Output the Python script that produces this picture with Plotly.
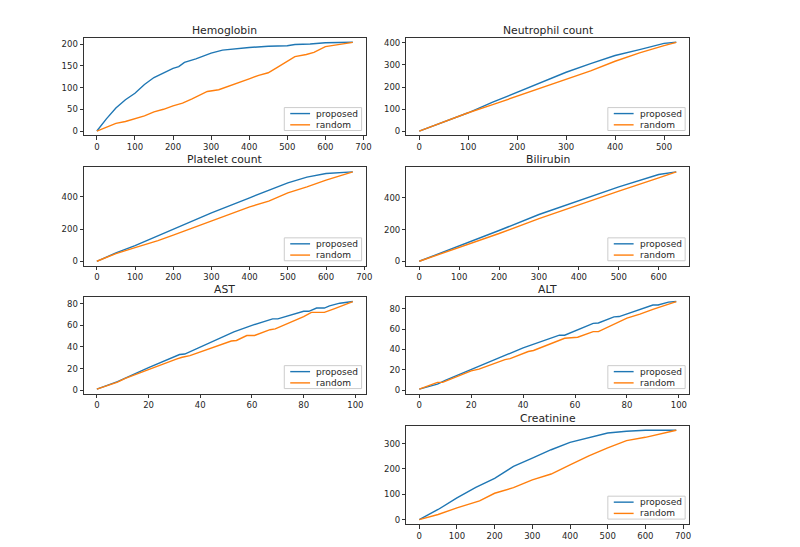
import plotly.graph_objects as go

# ---------------- data ----------------
hgb_prop_x = [0, 25, 50, 75, 100, 125, 150, 175, 200, 215, 230, 260, 300, 330, 350, 400, 450, 500, 520, 560, 600, 640, 672]
hgb_prop_y = [0, 28, 53, 72, 87, 107, 123, 133, 144, 148, 158, 166, 179, 186, 188, 192, 195, 196, 199, 200, 203, 203, 204]
hgb_rand_x = [0, 25, 50, 75, 100, 125, 150, 175, 200, 225, 250, 270, 290, 320, 350, 375, 400, 425, 450, 475, 500, 520, 550, 570, 600, 625, 650, 672]
hgb_rand_y = [0, 9, 17.5, 22, 29, 35, 44, 50, 58, 64, 74, 82, 91, 95, 104, 111, 120, 128, 134, 147, 160, 171, 176, 181, 194, 198, 201, 204]

neu_x = [0, 50, 100, 150, 200, 250, 300, 350, 400, 450, 500, 525]
neu_prop_y = [0, 41, 83, 131, 177, 224, 267, 306, 343, 370, 398, 403]
neu_rand_y = [0, 41, 83, 120, 158, 196, 234, 273, 317, 355, 388, 403]

plt_prop_x = [0, 50, 100, 200, 300, 400, 500, 550, 600, 670]
plt_prop_y = [0, 52, 97, 197, 300, 394, 487, 522, 545, 555]
plt_rand_x = [0, 50, 100, 160, 200, 300, 400, 450, 500, 550, 600, 670]
plt_rand_y = [0, 48, 85, 128, 162, 249, 338, 373, 425, 462, 504, 555]

bil_x = [0, 100, 200, 300, 400, 500, 600, 644]
bil_prop_y = [0, 95, 194, 295, 383, 469, 547, 564]
bil_rand_y = [0, 88, 175, 269, 358, 442, 526, 564]

ast_prop_x = [0, 8, 20, 32, 34, 40, 53, 60, 68, 70, 80, 82, 85, 88, 90, 94, 97, 99]
ast_prop_y = [1, 8, 21, 33, 33.5, 40, 54, 60, 66, 66, 73, 73, 76, 76, 78, 80.5, 81, 82]
ast_rand_x = [0, 8, 11, 20, 22, 31, 33, 36, 44, 52, 54, 58, 61, 67, 69, 80, 83, 88, 92, 99]
ast_rand_y = [1, 7.5, 11, 19.7, 21, 29, 30.5, 32, 38.5, 45.5, 46, 50.6, 50.6, 56, 56.7, 68, 72, 72, 75.5, 82]

alt_prop_x = [0, 5, 7, 10, 20, 30, 40, 50, 54, 56, 60, 67, 69, 75, 77, 80, 85, 90, 92, 96, 99]
alt_prop_y = [1, 5, 6, 9.6, 20.6, 31, 41.5, 50.5, 54, 54, 58.5, 65.6, 66, 72, 72.3, 75, 79, 83.6, 83.6, 86.5, 87]
alt_rand_x = [0, 7, 9, 20, 23, 33, 35, 42, 44, 56, 61, 67, 69, 80, 85, 90, 99]
alt_rand_y = [1, 7.7, 7.7, 19, 20.6, 30, 31, 38, 39, 51, 52, 57.5, 57.5, 70.7, 74.6, 79.4, 87]

cre_prop_x = [0, 50, 100, 150, 200, 250, 300, 350, 400, 450, 500, 550, 600, 682]
cre_prop_y = [0, 40, 86, 127, 163, 210, 243, 276, 305, 325, 342, 349, 353, 353]
cre_rand_x = [0, 50, 100, 150, 160, 200, 250, 300, 350, 400, 450, 500, 550, 600, 650, 682]
cre_rand_y = [0, 20, 46, 70, 74, 104, 126, 157, 180, 216, 252, 283, 312, 325, 342, 353]

titles = ["Hemoglobin", "Neutrophil count", "Platelet count", "Bilirubin", "AST", "ALT", "Creatinine"]
series_names = ["proposed", "random"]
x_dticks = [100, 100, 100, 100, 20, 20, 100]
y_dticks = [50, 100, 200, 200, 20, 20, 100]

# ---------------- layout ----------------
W, H = 800, 547
COLORS = ["#1f77b4", "#ff7f0e"]
FONT = "DejaVu Sans, Verdana, sans-serif"
TXT = "#262626"
col_x = [(0.106, 0.461), (0.5125, 0.869)]
row_y = [(0.7514, 0.9305), (0.5124, 0.6929), (0.2779, 0.4547), (0.0384, 0.2188)]
positions = [(0, 0), (0, 1), (1, 0), (1, 1), (2, 0), (2, 1), (3, 1)]

panels = [
    ((hgb_prop_x, hgb_prop_y), (hgb_rand_x, hgb_rand_y)),
    ((neu_x, neu_prop_y), (neu_x, neu_rand_y)),
    ((plt_prop_x, plt_prop_y), (plt_rand_x, plt_rand_y)),
    ((bil_x, bil_prop_y), (bil_x, bil_rand_y)),
    ((ast_prop_x, ast_prop_y), (ast_rand_x, ast_rand_y)),
    ((alt_prop_x, alt_prop_y), (alt_rand_x, alt_rand_y)),
    ((cre_prop_x, cre_prop_y), (cre_rand_x, cre_rand_y)),
]


def padded(vals):
    lo, hi = min(vals), max(vals)
    p = 0.05 * (hi - lo)
    return [lo - p, hi + p]


fig = go.Figure()
annotations = []
shapes = []
layout = dict(
    width=W, height=H,
    margin=dict(l=0, r=0, t=0, b=0),
    paper_bgcolor="white", plot_bgcolor="white",
    font=dict(family=FONT, size=8.5, color=TXT),
    showlegend=False,
)

for i, (panel, (r, c), title) in enumerate(zip(panels, positions, titles)):
    n = i + 1
    xa = "xaxis" if n == 1 else f"xaxis{n}"
    ya = "yaxis" if n == 1 else f"yaxis{n}"
    xr = "x" if n == 1 else f"x{n}"
    yr = "y" if n == 1 else f"y{n}"
    allx, ally = [], []
    for k, (sx, sy) in enumerate(panel):
        allx += sx
        ally += sy
        fig.add_trace(go.Scatter(
            x=sx, y=sy, mode="lines", name=series_names[k],
            line=dict(color=COLORS[k], width=1.4),
            xaxis=xr, yaxis=yr,
        ))
    axis_common = dict(
        showline=True, mirror=True, linecolor="#333", linewidth=1,
        ticks="outside", ticklen=3.5, tickwidth=0.8, tickcolor="#333",
        showgrid=False, zeroline=False,
        tickfont=dict(family=FONT, size=8.5, color=TXT),
        fixedrange=True,
    )
    layout[xa] = dict(axis_common, domain=list(col_x[c]), anchor=yr,
                      range=padded(allx), tick0=0, dtick=x_dticks[i])
    layout[ya] = dict(axis_common, domain=list(row_y[r]), anchor=xr,
                      range=padded(ally), tick0=0, dtick=y_dticks[i])
    annotations.append(dict(
        text=title, xref="paper", yref="paper",
        x=(col_x[c][0] + col_x[c][1]) / 2, y=row_y[r][1],
        xanchor="center", yanchor="bottom", yshift=-1, showarrow=False,
        font=dict(family=FONT, size=10.8, color=TXT),
    ))

    # legend box (matplotlib style), placed in pixels from the panel's lower-right corner
    R = col_x[c][1] * W - 4
    B = row_y[r][0] * H + 5
    bw, bh = 78, 23
    shapes.append(dict(type="rect", xref="paper", yref="paper",
                       x0=(R - bw) / W, x1=R / W, y0=B / H, y1=(B + bh) / H,
                       line=dict(color="#cccccc", width=1),
                       fillcolor="rgba(255,255,255,0.8)", layer="above"))
    for k, name in enumerate(series_names):
        ly = B + bh - 6 - k * 11.3
        shapes.append(dict(type="line", xref="paper", yref="paper",
                           x0=(R - 72) / W, x1=(R - 52) / W, y0=ly / H, y1=ly / H,
                           line=dict(color=COLORS[k], width=1.4), layer="above"))
        annotations.append(dict(
            text=name, xref="paper", yref="paper",
            x=(R - 48) / W, y=ly / H, xanchor="left", yanchor="middle",
            showarrow=False, font=dict(family=FONT, size=9, color=TXT),
        ))

layout["annotations"] = annotations
layout["shapes"] = shapes
fig.update_layout(**layout)
fig.write_html("out.html")
